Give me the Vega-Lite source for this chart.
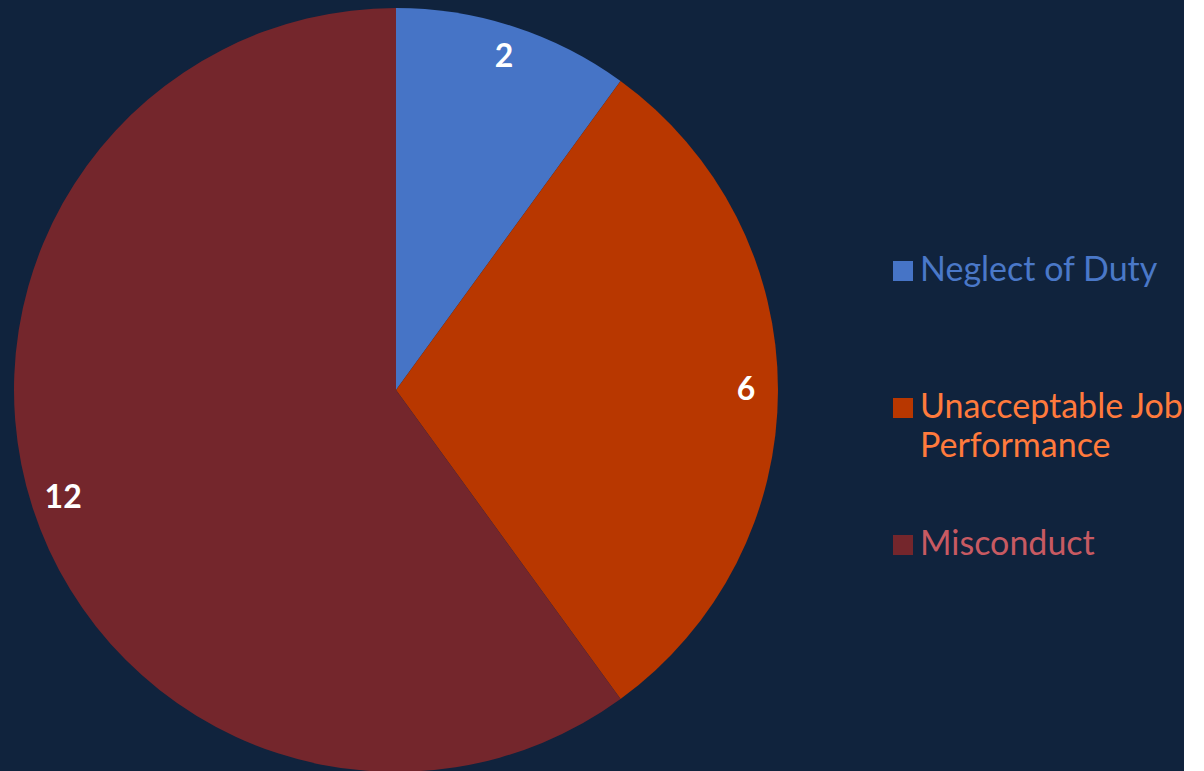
{
  "$schema": "https://vega.github.io/schema/vega-lite/v6.json",
  "width": 792,
  "height": 780,
  "padding": 0,
  "background": "#10233D",
  "view": {"stroke": null},
  "data": {
    "values": [
      {"category": "Neglect of Duty", "count": 2, "idx": 1},
      {"category": "Unacceptable Job Performance", "count": 6, "idx": 2},
      {"category": "Misconduct", "count": 12, "idx": 3}
    ]
  },
  "encoding": {
    "theta": {"field": "count", "type": "quantitative", "stack": true},
    "order": {"field": "idx", "type": "quantitative"}
  },
  "layer": [
    {
      "mark": {"type": "arc", "outerRadius": 382},
      "encoding": {
        "color": {
          "field": "category",
          "type": "nominal",
          "sort": ["Neglect of Duty", "Unacceptable Job Performance", "Misconduct"],
          "scale": {
            "domain": ["Neglect of Duty", "Unacceptable Job Performance", "Misconduct"],
            "range": ["#4674C6", "#B83700", "#74262C"]
          },
          "legend": {
            "orient": "none",
            "legendX": 886,
            "legendY": 254,
            "title": null,
            "symbolType": "square",
            "symbolSize": 400,
            "symbolStrokeWidth": 0,
            "labelFont": "Lato",
            "labelFontSize": 34,
            "labelOffset": 0,
            "labelLimit": 400,
            "rowPadding": 64,
            "labelExpr": "datum.label == 'Unacceptable Job Performance' ? ['Unacceptable Job', 'Performance'] : [datum.label, ' ']",
            "encode": {
              "labels": {
                "update": {
                  "lineHeight": {"value": 39},
                  "fill": {"signal": "datum.value == 'Neglect of Duty' ? '#4A78C8' : datum.value == 'Misconduct' ? '#C85A62' : '#FF7A3C'"}
                }
              }
            }
          }
        }
      }
    },
    {
      "mark": {"type": "text", "radius": 350, "font": "Lato", "fontSize": 32, "fontWeight": "bold", "fill": "#FFFFFF"},
      "encoding": {
        "text": {"field": "count", "type": "quantitative"}
      }
    }
  ]
}
